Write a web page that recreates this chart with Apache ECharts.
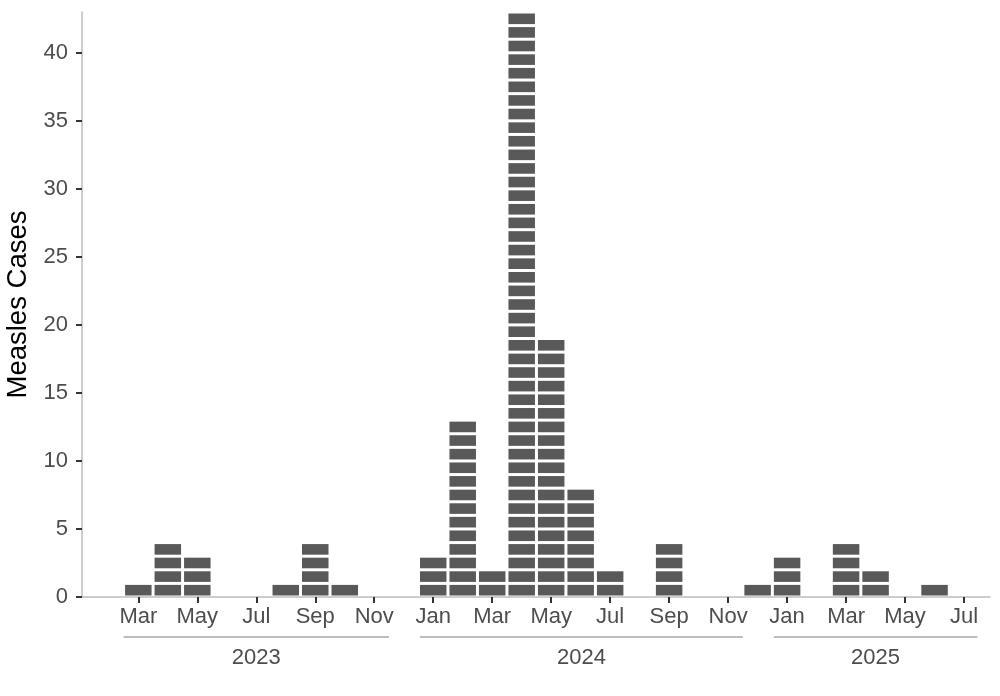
<!DOCTYPE html>
<html>
<head>
<meta charset="utf-8">
<script src="https://cdn.jsdelivr.net/npm/echarts@6/dist/echarts.min.js"></script>
<style>
  html, body { margin: 0; padding: 0; background: #fff; }
  #chart { width: 1000px; height: 696px; }
</style>
</head>
<body>
<div id="chart"></div>
<script>
'use strict';

// monthly counts, Mar 2023 .. Jul 2025
var months = [
  'Mar', 'Apr', 'May', 'Jun', 'Jul', 'Aug', 'Sep', 'Oct', 'Nov', 'Dec',
  'Jan', 'Feb', 'Mar', 'Apr', 'May', 'Jun', 'Jul', 'Aug', 'Sep', 'Oct', 'Nov', 'Dec',
  'Jan', 'Feb', 'Mar', 'Apr', 'May', 'Jun', 'Jul'
];
var cases = [
  1, 4, 3, 0, 0, 1, 4, 1, 0, 0,
  3, 13, 2, 43, 19, 8, 2, 0, 4, 0, 0, 1,
  3, 0, 4, 2, 0, 1, 0
];
var monthTicks = [0, 2, 4, 6, 8, 10, 12, 14, 16, 18, 20, 22, 24, 26, 28];
var caseTicks = [0, 5, 10, 15, 20, 25, 30, 35, 40];

// year groups below the month labels (month index span)
var years = ['2023', '2024', '2025'];
var yearStart = [-0.5, 9.55, 21.55];
var yearEnd = [8.5, 20.5, 28.45];

var FONT = '"Liberation Sans", Arial, Helvetica, sans-serif';
var BAR = '#595959';
var TEXT = '#4d4d4d';
var AXIS = '#bdbdbd';

var blockData = cases.map(function(c, i) { return [i, c]; });
var yearData = years.map(function(y, i) { return [yearStart[i], yearEnd[i]]; });

function renderBlocks(params, api) {
  var x = api.value(0);
  var n = api.value(1);
  var pad = 1.5;
  var kids = [];
  for (let k = 0; k < n; k++) {
    let p0 = api.coord([x - 0.5, k]);
    let p1 = api.coord([x + 0.5, k + 1]);
    kids.push({
      type: 'rect',
      shape: {
        x: p0[0] + pad,
        y: p1[1] + pad,
        width: p1[0] - p0[0] - 2 * pad,
        height: p0[1] - p1[1] - 2 * pad
      },
      style: { fill: BAR }
    });
  }
  return { type: 'group', children: kids };
}

function renderYears(params, api) {
  var a = api.coord([api.value(0), 0]);
  var b = api.coord([api.value(1), 0]);
  var base = a[1];
  return {
    type: 'group',
    children: [
      {
        type: 'line',
        shape: { x1: a[0], y1: base + 40, x2: b[0], y2: base + 40 },
        style: { stroke: AXIS, lineWidth: 2 }
      },
      {
        type: 'text',
        x: (a[0] + b[0]) / 2,
        y: base + 61,
        style: {
          text: years[params.dataIndex],
          fill: TEXT,
          font: '22px ' + FONT,
          align: 'center',
          verticalAlign: 'middle'
        }
      }
    ]
  };
}

var chart = echarts.init(document.getElementById('chart'));
chart.setOption({
  animation: false,
  backgroundColor: '#fff',
  grid: { left: 82, right: 10, top: 12, bottom: 99, outerBoundsMode: 'none' },
  xAxis: {
    type: 'value',
    min: -1.91,
    max: 28.88,
    splitLine: { show: false },
    axisLine: { show: true, onZero: false, lineStyle: { color: AXIS, width: 1.5 } },
    axisTick: {
      show: true, length: 6, customValues: monthTicks,
      lineStyle: { color: '#333', width: 2 }
    },
    axisLabel: {
      customValues: monthTicks,
      margin: 9,
      color: TEXT,
      fontSize: 22,
      fontFamily: FONT,
      formatter: function(v) { return months[Math.round(v)]; }
    }
  },
  yAxis: {
    type: 'value',
    min: 0,
    max: 43,
    name: 'Measles Cases',
    nameLocation: 'middle',
    nameGap: 41,
    nameTextStyle: { color: '#000', fontSize: 27.5, fontFamily: FONT },
    splitLine: { show: false },
    axisLine: { show: true, onZero: false, lineStyle: { color: AXIS, width: 1.5 } },
    axisTick: {
      show: true, length: 6, customValues: caseTicks,
      lineStyle: { color: '#333', width: 2 }
    },
    axisLabel: {
      customValues: caseTicks,
      margin: 14,
      color: TEXT,
      fontSize: 22,
      fontFamily: FONT
    }
  },
  series: [
    {
      type: 'custom',
      renderItem: renderBlocks,
      data: blockData,
      encode: { x: 0, y: 1 },
      silent: true
    },
    {
      type: 'custom',
      renderItem: renderYears,
      data: yearData,
      encode: { x: [0, 1] },
      clip: false,
      silent: true
    }
  ]
});
</script>
</body>
</html>
